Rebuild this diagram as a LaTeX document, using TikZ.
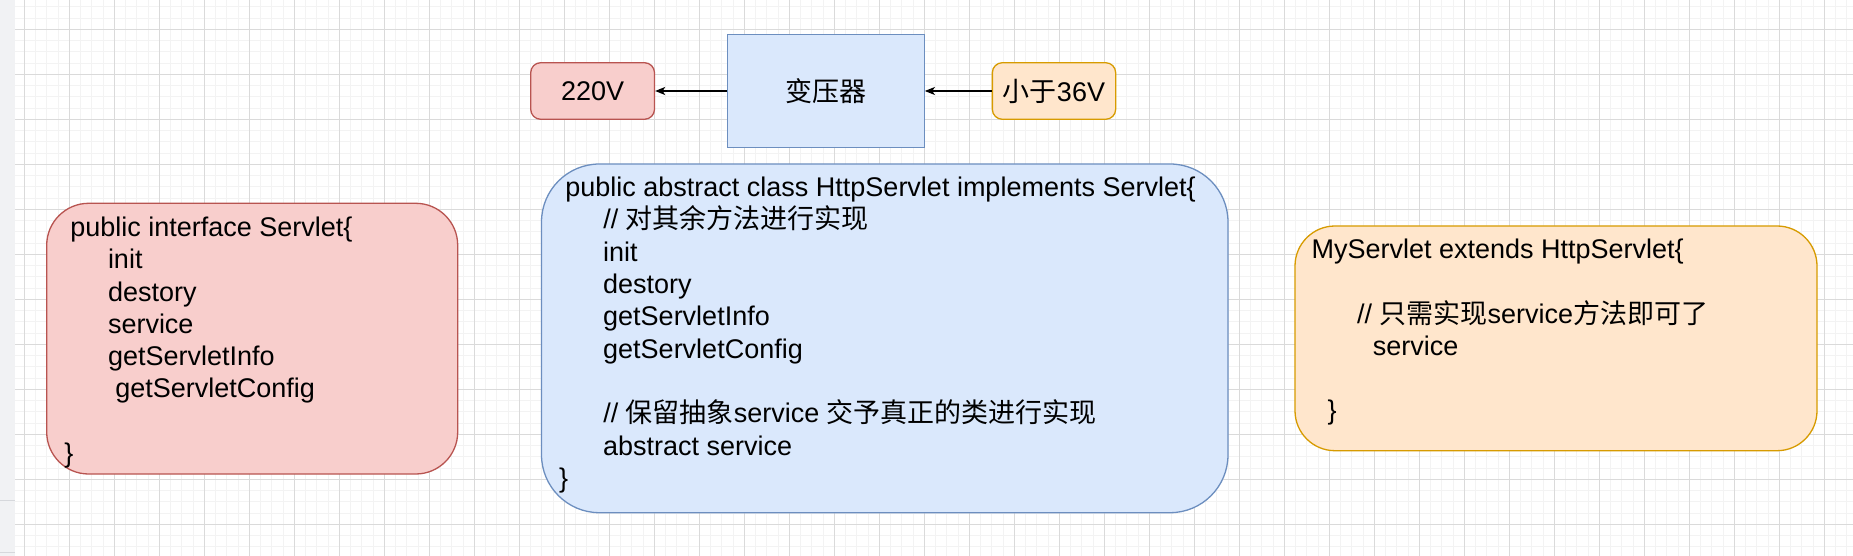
\documentclass[tikz,border=0pt]{standalone}
\usepackage{fontspec}
\setmainfont{Liberation Sans}
\newfontfamily\cjk{Noto Sans CJK SC}
\newcommand\zh[1]{{\cjk #1}}
\usetikzlibrary{arrows.meta}
\definecolor{redfill}{HTML}{F8CECC}
\definecolor{redline}{HTML}{B85450}
\definecolor{bluefill}{HTML}{DAE8FC}
\definecolor{blueline}{HTML}{6C8EBF}
\definecolor{orfill}{HTML}{FFE6CC}
\definecolor{orline}{HTML}{D79B00}
\definecolor{gridmajor}{RGB}{218,218,218}
\definecolor{gridminor}{RGB}{243,243,243}
\definecolor{stripgray}{RGB}{241,242,244}
\definecolor{stripline}{RGB}{214,216,220}
\tikzset{
  minorg/.style={draw=gridminor, line width=1pt},
  majorg/.style={draw=gridmajor, line width=1pt},
  box/.style={line width=1.3pt, inner sep=0pt, font=\fontsize{27}{32}\selectfont},
  codeline/.style={anchor=base west, inner sep=0pt, font=\fontsize{27}{32}\selectfont},
  arr/.style={line width=1.3pt, -{Stealth[length=10pt,width=8pt,inset=2.5pt]}}
}
\begin{document}
\begin{tikzpicture}[x=1pt,y=-1pt]
\useasboundingbox (0,0) rectangle (1853,556);
\fill[white] (0,0) rectangle (1853,556);
% grid
\foreach \k in {0,...,163} { \pgfmathsetmacro\xx{24.3+11.25*\k} \draw[minorg] (\xx,0) -- (\xx,556); }
\foreach \k in {-2,...,47} { \pgfmathsetmacro\yy{29.3+11.25*\k} \draw[minorg] (0,\yy) -- (1853,\yy); }
\foreach \k in {0,...,40} { \pgfmathsetmacro\xx{24.3+45*\k} \draw[majorg] (\xx,0) -- (\xx,556); }
\foreach \k in {0,...,11} { \pgfmathsetmacro\yy{29.3+45*\k} \draw[majorg] (0,\yy) -- (1853,\yy); }
% left strip
\fill[stripgray] (0,0) rectangle (15,556);
\draw[stripline, line width=1pt] (0,500.3) -- (15,500.3);
\draw[stripline, line width=1pt] (0,552.3) -- (15,552.3);

% top row
\node[box, fill=redfill, draw=redline, rounded corners=10pt, minimum width=123.8pt, minimum height=56.6pt] (v220) at (592.6,91) {220V};
\node[box, fill=bluefill, draw=blueline, minimum width=196.9pt, minimum height=113pt] (trans) at (825.75,91) {\zh{变压器}};
\node[box, fill=orfill, draw=orline, rounded corners=10pt, minimum width=123.3pt, minimum height=56.6pt] (lt36) at (1054,91) {\zh{小于}36V};
\draw[arr] (trans.west) -- (v220.east);
\draw[arr] (lt36.west) -- (trans.east);

% big boxes
\node[box, fill=redfill, draw=redline, rounded corners=42pt, minimum width=411pt, minimum height=270.7pt] (iface) at (252.2,338.65) {};
\node[box, fill=bluefill, draw=blueline, rounded corners=58pt, minimum width=686.5pt, minimum height=348.7pt] (http) at (884.75,338.35) {};
\node[box, fill=orfill, draw=orline, rounded corners=40pt, minimum width=522pt, minimum height=224.7pt] (mys) at (1556,338.35) {};

% red box text
\node[codeline] (r1) at (70.2,236.7) {public interface Servlet\{};
\node[codeline] (r2) at (107.8,268.9) {init};
\node[codeline] (r3) at (107.8,301.1) {destory};
\node[codeline] (r4) at (107.8,333.3) {service};
\node[codeline] (r5) at (107.8,365.5) {getServletInfo};
\node[codeline] (r6) at (115.2,397.7) {getServletConfig};
\node[codeline] (r7) at (64.2,462.1) {\}};

% blue box text
\node[codeline] (b1) at (565.2,196.7) {public abstract class HttpServlet implements Servlet\{};
\node[codeline] (b2) at (603.2,229) {// \zh{对其余方法进行实现}};
\node[codeline] (b3) at (603,261.3) {init};
\node[codeline] (b4) at (603,293.6) {destory};
\node[codeline] (b5) at (603,325.9) {getServletInfo};
\node[codeline] (b6) at (603,358.2) {getServletConfig};
\node[codeline] (b7) at (603.2,422.8) {// \zh{保留抽象}service \zh{交予真正的类进行实现}};
\node[codeline] (b8) at (603,455.1) {abstract service};
\node[codeline] (b9) at (559,487.4) {\}};

% orange box text
\node[codeline] (o1) at (1311.3,258.3) {MyServlet extends HttpServlet\{};
\node[codeline] (o2) at (1357,323) {// \zh{只需实现}service\zh{方法即可了}};
\node[codeline] (o3) at (1372.6,355.3) {service};
\node[codeline] (o4) at (1327.4,419.9) {\}};
\end{tikzpicture}
\end{document}
